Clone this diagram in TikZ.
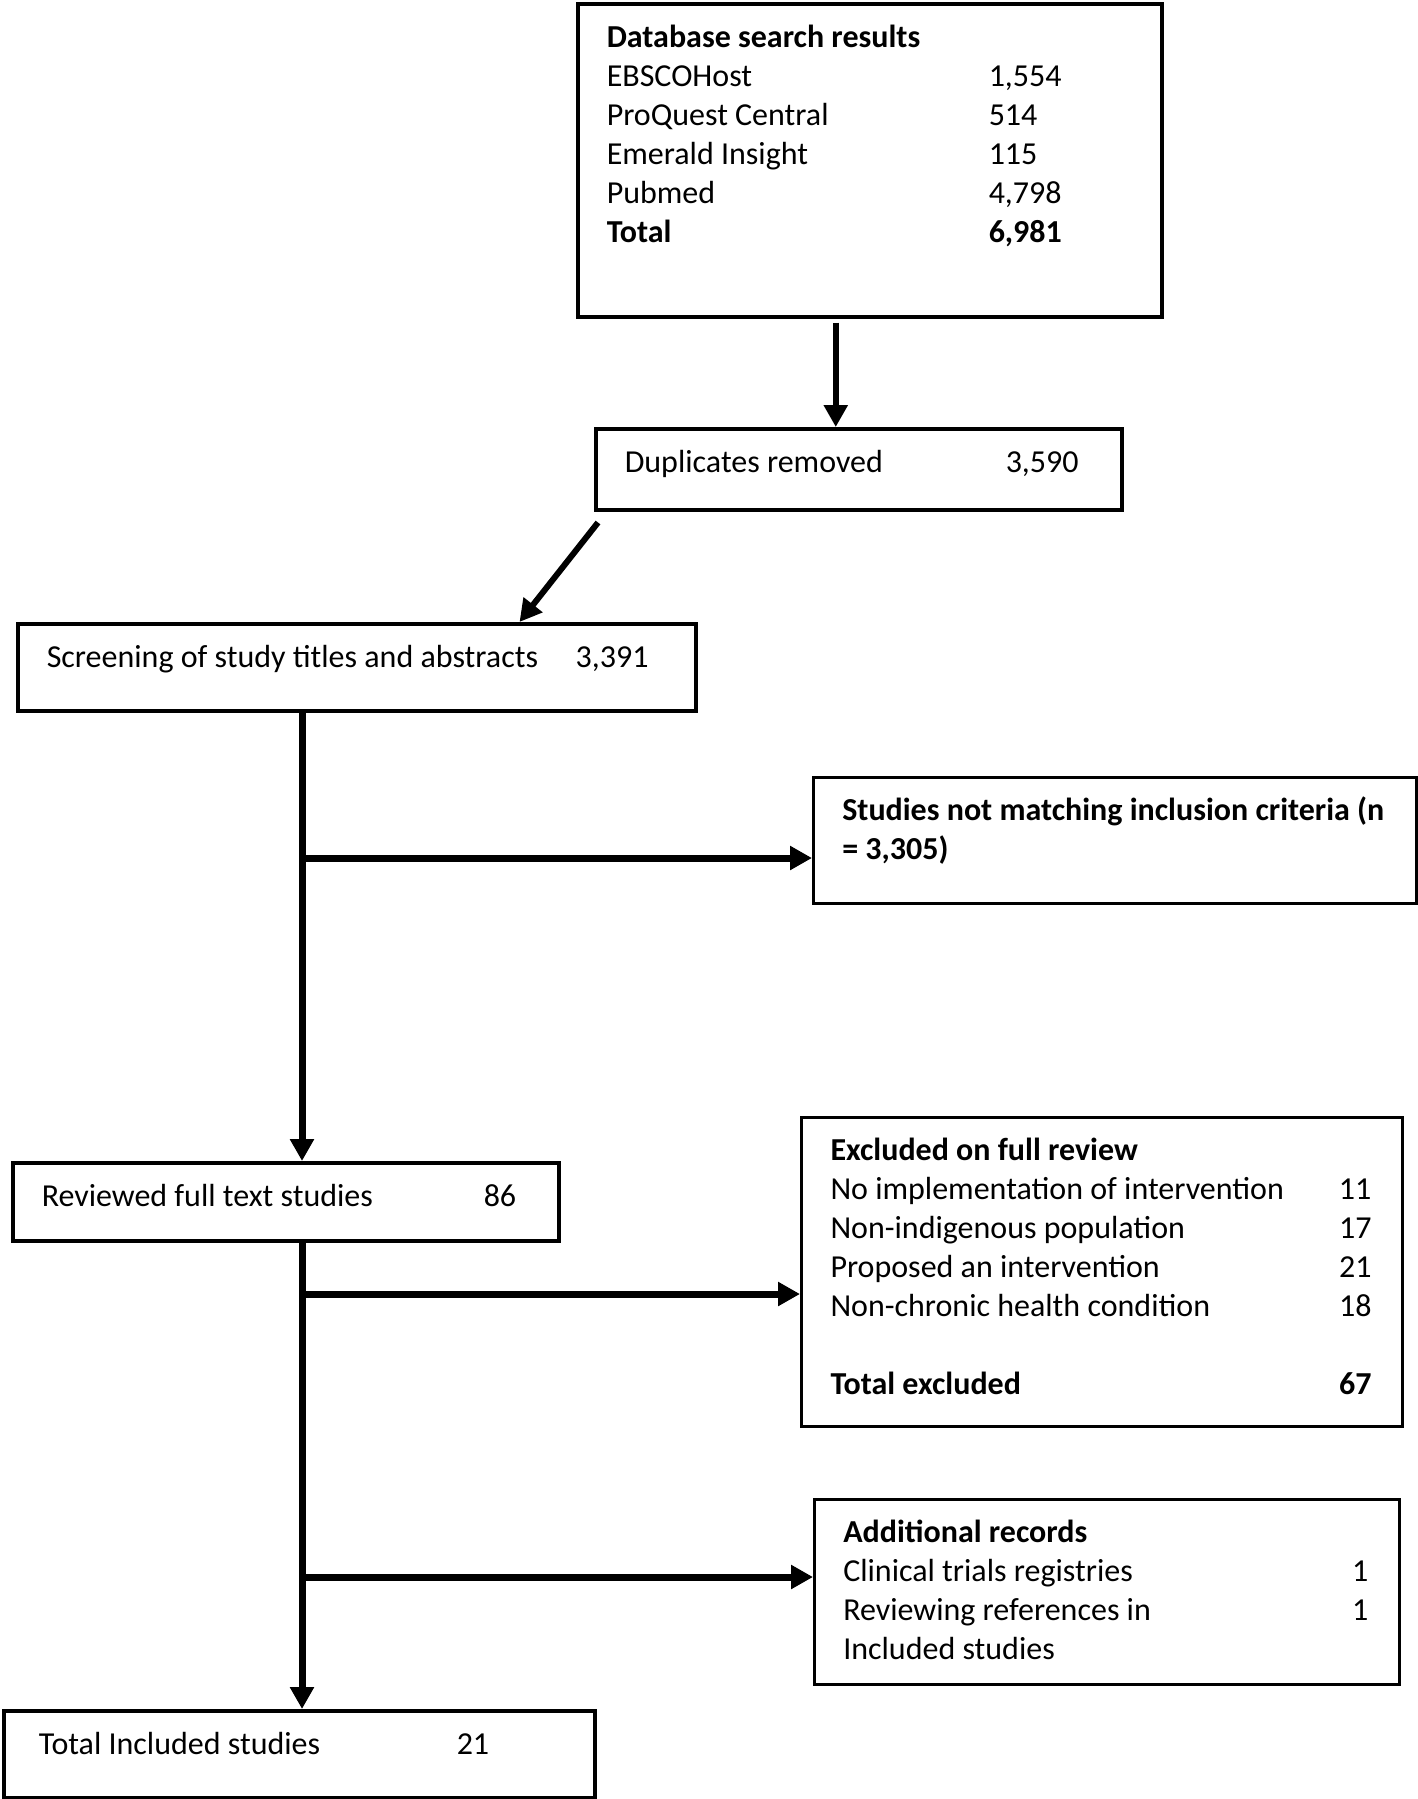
\documentclass[tikz,border=0pt]{standalone}
\usepackage{fontspec}
\setmainfont{Carlito}
\usepackage{tikz}
\usetikzlibrary{arrows.meta}
\usetikzlibrary{positioning}
\tikzset{stage/.style = {draw, line width=3.5pt, anchor=north west,
                         inner xsep=29pt, inner ysep=16pt,
                         font=\fontsize{32}{39}\selectfont},
         flow/.style = {line width=7pt, -{Triangle[length=22pt, width=23pt]}},
         trunk/.style = {line width=7pt}}
\newcommand{\lrow}[3]{\hbox to \hsize{\strut\makebox[#1][l]{#2}#3\hfil}}
\newcommand{\rrow}[3]{\hbox to \hsize{\strut\hbox to #1{#2\hfill #3}\hfil}}
\newcommand{\hrow}[1]{\hbox to \hsize{\strut #1\hfil}}

\begin{document}
\begin{tikzpicture}[x=1pt, y=1pt]
    \useasboundingbox (0, 0) rectangle (1418, -1799);

    \node[stage] (search) at (576, -2) {\parbox[t][281pt][t]{526pt}{%
        \hrow{\bfseries Database search results}
        \lrow{382pt}{EBSCOHost}{1,554}
        \lrow{382pt}{ProQuest Central}{514}
        \lrow{382pt}{Emerald Insight}{115}
        \lrow{382pt}{Pubmed}{4,798}
        \lrow{382pt}{\bfseries Total}{\bfseries 6,981}}};
    \node[stage] (dup) at (594, -427) {\parbox[t][49pt][t]{468pt}{%
        \lrow{381pt}{Duplicates removed}{3,590}}};
    \node[stage] (screen) at (16, -622) {\parbox[t][55pt][t]{620pt}{%
        \lrow{529pt}{Screening of study titles and abstracts}{3,391}}};
    \node[stage, line width=2.5pt] (nomatch) at (812, -776) {\parbox[t][94pt][t]{545pt}{%
        \hrow{\bfseries Studies not matching inclusion criteria (n}
        \hrow{\bfseries = 3,305)}}};
    \node[stage] (full) at (11, -1161) {\parbox[t][46pt][t]{488pt}{%
        \lrow{442pt}{Reviewed full text studies}{86}}};
    \node[stage, line width=3pt] (excl) at (800, -1116) {\parbox[t][277pt][t]{543pt}{%
        \hrow{\bfseries Excluded on full review}
        \rrow{541pt}{No implementation of intervention}{11}
        \rrow{541pt}{Non-indigenous population}{17}
        \rrow{541pt}{Proposed an intervention}{21}
        \rrow{541pt}{Non-chronic health condition}{18}
        \hrow{}
        \rrow{541pt}{\bfseries Total excluded}{\bfseries 67}}};
    \node[stage, line width=2.5pt] (addl) at (813, -1498) {\parbox[t][153pt][t]{527pt}{%
        \hrow{\bfseries Additional records}
        \rrow{525pt}{Clinical trials registries}{1}
        \rrow{525pt}{Reviewing references in}{1}
        \hrow{Included studies}}};
    \node[stage, inner xsep=35pt] (total) at (2, -1709) {\parbox[t][55pt][t]{521pt}{%
        \lrow{418pt}{Total Included studies}{21}}};

    \coordinate (spine) at (302, 0);
    \coordinate (b1) at (302, -858);
    \coordinate (b2) at (302, -1294);
    \coordinate (b3) at (302, -1577);

    \draw [flow, line width=6pt] ([shift={(-34, -4)}]search.south) -- ([xshift=-34]search.south |- dup.north);
    \draw [flow, line width=6pt] ([shift={(4, -11)}]dup.south west) -- ([xshift=-178]screen.north east);
    \draw [flow] (screen.south -| spine) -- (full.north -| spine);
    \draw [flow] (full.south -| spine) -- (total.north -| spine);
    \draw [flow] (b1) -- (b1 -| nomatch.west);
    \draw [flow] (b2) -- (b2 -| excl.west);
    \draw [flow] (b3) -- (b3 -| addl.west);
\end{tikzpicture}
\end{document}
